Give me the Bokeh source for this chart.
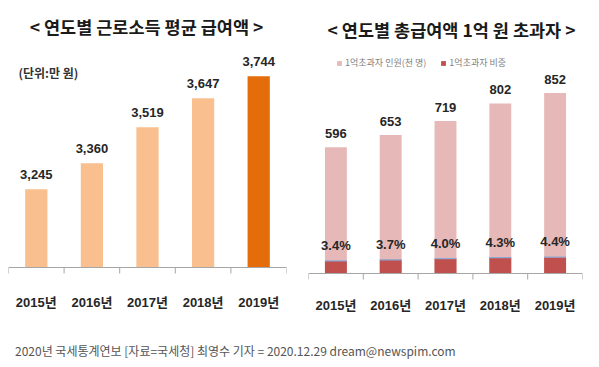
from bokeh.plotting import figure
from bokeh.models import (FactorRange, Range1d, Span, Label, Legend, LegendItem,
                          ColumnDataSource, Div)
from bokeh.transform import dodge
from bokeh.layouts import column, row
from bokeh.core.properties import value
from bokeh.embed import file_html
from bokeh.resources import INLINE

# ---- data ----
years = ["2015년", "2016년", "2017년", "2018년", "2019년"]
avg_pay = [3245, 3360, 3519, 3647, 3744]          # 만 원
avg_pay_labels = ["3,245", "3,360", "3,519", "3,647", "3,744"]
left_axis_min = 2900
over_count = [596, 653, 719, 802, 852]             # 천 명
over_count_labels = ["596", "653", "719", "802", "852"]
over_share = [3.4, 3.7, 4.0, 4.3, 4.4]             # %
over_share_labels = ["3.4%", "3.7%", "4.0%", "4.3%", "4.4%"]

title_left = "< 연도별 근로소득 평균 급여액 >"
title_right = "< 연도별 총급여액 1억 원 초과자 >"
unit_text = "(단위:만 원)"
legend_labels = ["1억초과자 인원(천 명)", "1억초과자 비중"]
caption = "2020년 국세통계연보 [자료=국세청] 최영수 기자 = 2020.12.29 dream@newspim.com"

# ---- styles ----
KFONT = "Noto Sans CJK KR"
NFONT = "'Liberation Sans', 'Noto Sans CJK KR'"
LIGHT_ORANGE = "#F9BF8F"
DARK_ORANGE = "#E46C0A"
PINK = "#E6B9B8"
RED = "#C0504D"
AXIS_GRAY = "#A6A6A6"
TXT = "#262626"

H = 326


def new_fig(width, border_left, border_right, y_range):
    p = figure(x_range=FactorRange(*years), y_range=y_range,
               width=width, height=H, output_backend="svg", toolbar_location=None,
               x_axis_location=None, y_axis_location=None,
               min_border_left=border_left, min_border_right=border_right,
               min_border_top=0, min_border_bottom=0)
    p.outline_line_color = None
    p.xgrid.grid_line_color = None
    p.ygrid.grid_line_color = None
    return p


def add_axis(p, axis_min, s, label_offset):
    # baseline, boundary ticks and year labels
    p.add_layout(Span(location=axis_min, dimension="width",
                      line_color=AXIS_GRAY, line_width=1))
    tick_len = 6 / s
    ts = ColumnDataSource(dict(year=years, base=[axis_min] * len(years)))
    p.segment(x0=dodge("year", -0.5, range=p.x_range), y0=axis_min,
              x1=dodge("year", -0.5, range=p.x_range), y1=axis_min - tick_len,
              source=ts, line_color=AXIS_GRAY, line_width=1)
    te = ColumnDataSource(dict(year=years[-1:]))
    p.segment(x0=dodge("year", 0.5, range=p.x_range), y0=axis_min,
              x1=dodge("year", 0.5, range=p.x_range), y1=axis_min - tick_len,
              source=te, line_color=AXIS_GRAY, line_width=1)
    p.text(x="year", y="base", text="year", source=ts, text_align="center",
           text_baseline="middle", y_offset=label_offset, text_font=value(NFONT),
           text_font_size="13px", text_font_style="bold", text_color=TXT)


def add_title(p, text, x, y):
    p.add_layout(Label(x=x, y=y, x_units="screen", y_units="screen", text=text,
                       text_align="center", text_baseline="middle",
                       text_font=KFONT, text_font_size="17.5px",
                       text_font_style="bold", text_color="#1a1a1a"))


# ---- left chart ----
s1 = 0.2265   # px per 만 원
base1 = 267   # baseline, px from top
p1 = new_fig(298, 8, 12,
             Range1d(left_axis_min - (H - base1) / s1, left_axis_min + base1 / s1))
add_title(p1, title_left, 138, H - 26)

colors = [LIGHT_ORANGE] * (len(years) - 1) + [DARK_ORANGE]
src1 = ColumnDataSource(dict(year=years, pay=avg_pay, lab=avg_pay_labels, color=colors))
p1.vbar(x="year", top="pay", bottom=left_axis_min, width=0.4, source=src1,
        fill_color="color", line_color=None)
p1.text(x="year", y="pay", text="lab", source=src1, text_align="center",
        text_baseline="bottom", y_offset=-10, text_font=value(NFONT),
        text_font_size="13px", text_font_style="bold", text_color=TXT)
add_axis(p1, left_axis_min, s1, 35)
p1.add_layout(Label(x=10, y=H - 72, x_units="screen", y_units="screen", text=unit_text,
                    text_font=KFONT, text_font_size="12px", text_font_style="bold",
                    text_color="#333333", text_baseline="middle"))

# ---- right chart ----
s2 = 0.212    # px per 천 명
s3 = 3.7      # px per %
base2 = 273
p2 = new_fig(293, 10, 9, Range1d(-(H - base2) / s2, base2 / s2))
p2.extra_y_ranges = {"pct": Range1d(-(H - base2) / s3, base2 / s3)}
add_title(p2, title_right, 143, H - 29)

src2 = ColumnDataSource(dict(year=years, cnt=over_count, clab=over_count_labels,
                             share=over_share, slab=over_share_labels))
r_pink = p2.vbar(x="year", top="cnt", bottom=0, width=0.4, source=src2,
                 fill_color=PINK, line_color=None)
r_red = p2.vbar(x="year", top="share", bottom=0, width=0.4, source=src2,
                fill_color=RED, line_color=None, y_range_name="pct")
p2.segment(x0=dodge("year", -0.2, range=p2.x_range), y0="share",
           x1=dodge("year", 0.2, range=p2.x_range), y1="share", source=src2,
           y_range_name="pct", line_color="#8DA9D6", line_width=1.2)
p2.text(x="year", y="cnt", text="clab", source=src2, text_align="center",
        text_baseline="bottom", y_offset=-9, text_font=value(NFONT),
        text_font_size="13px", text_font_style="bold", text_color=TXT)
p2.text(x="year", y="share", text="slab", source=src2, text_align="center",
        text_baseline="bottom", y_offset=-8, y_range_name="pct",
        text_font=value(NFONT), text_font_size="13px", text_font_style="bold",
        text_color=TXT)
add_axis(p2, 0, s2, 32)

legend = Legend(items=[LegendItem(label=legend_labels[0], renderers=[r_pink]),
                       LegendItem(label=legend_labels[1], renderers=[r_red])],
                orientation="horizontal", location=(28, H - 69),
                glyph_width=6, glyph_height=6, label_height=12,
                label_standoff=3, spacing=14, padding=0, margin=0,
                border_line_color=None, background_fill_alpha=0,
                label_text_font=KFONT, label_text_font_size="9px",
                label_text_color="#7F7F7F")
p2.add_layout(legend)

cap = Div(text=caption, width=591, height=32,
          styles={"font-family": KFONT, "font-size": "12px", "color": "#555555",
                  "padding-top": "13px", "padding-left": "10px", "line-height": "14px",
                  "white-space": "nowrap"})

layout = column(row(p1, p2), cap)
open("out.html", "w").write(file_html(layout, INLINE))
